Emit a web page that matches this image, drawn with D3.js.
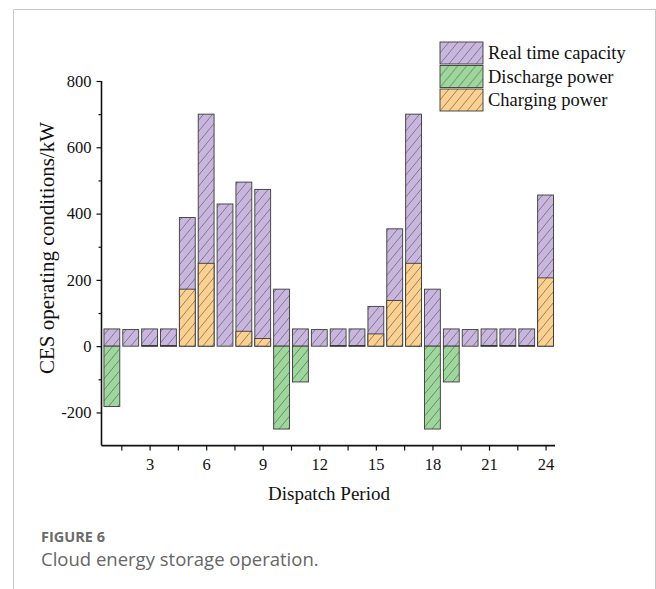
<!DOCTYPE html>
<html>
<head>
<meta charset="utf-8">
<script src="https://cdn.jsdelivr.net/npm/d3@7"></script>
<style>
  html, body { margin: 0; padding: 0; background: #fff; }
  svg { display: block; }
  .axis text { font-family: "Liberation Serif", "Times New Roman", serif; font-size: 16.5px; fill: #111; }
</style>
</head>
<body>
<svg id="chart" width="656" height="589"></svg>
<script>
// Dispatch periods 1..24
const periods = d3.range(1, 25);
// Real-time capacity of the cloud energy storage (kW)
const capacity = [52, 50, 52, 52, 388, 700, 429, 495, 473, 172, 52, 50,
                  52, 52, 120, 354, 700, 172, 52, 50, 52, 52, 52, 456];
// Discharge power (kW, negative = discharging)
const discharge = [-182, 0, 0, 0, 0, 0, 0, 0, 0, -250, -108, 0,
                   0, 0, 0, 0, 0, -250, -108, 0, 0, 0, 0, 0];
// Charging power (kW)
const charging = [0, 0, 2, 2, 172, 250, 0, 45, 23, 0, 0, 0,
                  2, 2, 37, 138, 250, 0, 0, 0, 2, 2, 2, 206];

const yTicks = [-200, 0, 200, 400, 600, 800];
const yMinor = [-100, 100, 300, 500, 700];
const xTicks = [3, 6, 9, 12, 15, 18, 21, 24];
const xMinor = [1.5, 4.5, 7.5, 10.5, 13.5, 16.5, 19.5, 22.5];

const seriesNames = ["Real time capacity", "Discharge power", "Charging power"];
const seriesColors = ["#c8b6df", "#9dd79c", "#fcd08e"];

const svg = d3.select("#chart");
const serif = "Liberation Serif, Times New Roman, serif";

// page frame
svg.append("path")
  .attr("d", "M13.5,589 V9.5 H655.5 V589")
  .attr("fill", "none").attr("stroke", "#c8c8c8").attr("stroke-width", 1);

// hatch patterns, one per series colour
const defs = svg.append("defs");
seriesColors.forEach((c, i) => {
  const p = defs.append("pattern")
    .attr("id", "hatch" + i)
    .attr("patternUnits", "userSpaceOnUse")
    .attr("width", 9).attr("height", 11);
  p.append("rect").attr("width", 9).attr("height", 11).attr("fill", c);
  p.append("path").attr("d", "M-9,22 L9,0 M0,22 L18,0 M-9,11 L0,0")
    .attr("stroke", "#4f4f4f").attr("stroke-width", 0.6).attr("fill", "none");
});

const x = d3.scaleLinear().domain([0.45, 24.5]).range([101.5, 555]);
const y = d3.scaleLinear().domain([-300, 800]).range([445.6, 81]);
const bw = (x(1) - x(0)) * 0.84;

const plot = svg.append("g");

function drawBars(values, idx) {
  plot.append("g").selectAll("rect")
    .data(periods.map((p, i) => ({ p, v: values[i] })).filter(d => d.v !== 0))
    .join("rect")
    .attr("x", d => x(d.p) - bw / 2)
    .attr("width", bw)
    .attr("y", d => y(Math.max(0, d.v)))
    .attr("height", d => Math.abs(y(d.v) - y(0)))
    .attr("fill", `url(#hatch${idx})`)
    .attr("stroke", "#3a3a3a")
    .attr("stroke-width", 0.9);
}
drawBars(capacity, 0);
drawBars(discharge, 1);
drawBars(charging, 2);

// axes
const fmt = d => String(d);
const yAxis = svg.append("g").attr("class", "axis").attr("transform", "translate(101.5,0)")
  .call(d3.axisLeft(y).tickValues(yTicks).tickSize(5).tickPadding(5).tickFormat(fmt));
svg.append("g").attr("class", "axis").attr("transform", "translate(101.5,0)")
  .call(d3.axisLeft(y).tickValues(yMinor).tickSize(3).tickFormat(""))
  .select(".domain").remove();
const xAxis = svg.append("g").attr("class", "axis").attr("transform", "translate(0,445.6)")
  .call(d3.axisBottom(x).tickValues(xTicks).tickSize(5).tickPadding(8).tickFormat(fmt));
svg.append("g").attr("class", "axis").attr("transform", "translate(0,445.6)")
  .call(d3.axisBottom(x).tickValues(xMinor).tickSize(5).tickFormat(""))
  .select(".domain").remove();

svg.selectAll(".axis").attr("font-family", serif).attr("font-size", 16.5);
svg.selectAll(".domain").attr("stroke", "#111").attr("stroke-width", 1.6);
svg.selectAll(".tick line").attr("stroke", "#111").attr("stroke-width", 1.2);
yAxis.select(".domain").attr("d", `M0,${y(800)}V${y(-300)}`);
xAxis.select(".domain").attr("d", `M101.5,0H555`);

// axis titles
svg.append("text")
  .attr("transform", `translate(54,248) rotate(-90)`)
  .attr("text-anchor", "middle")
  .attr("font-family", serif).attr("font-size", 21).attr("fill", "#111")
  .text("CES operating conditions/kW");
svg.append("text")
  .attr("x", 329).attr("y", 500)
  .attr("text-anchor", "middle")
  .attr("font-family", serif).attr("font-size", 19).attr("fill", "#111")
  .text("Dispatch Period");

// legend
const legend = svg.append("g").attr("transform", "translate(440,42)");
seriesNames.forEach((n, i) => {
  const g = legend.append("g").attr("transform", `translate(0,${i * 23.5})`);
  g.append("rect").attr("width", 43).attr("height", 22)
    .attr("fill", `url(#hatch${i})`).attr("stroke", "#3a3a3a").attr("stroke-width", 0.9);
  g.append("text").attr("x", 48).attr("y", 17)
    .attr("font-family", serif).attr("font-size", 18.5).attr("fill", "#111")
    .text(n);
});

// caption
svg.append("text").attr("x", 41).attr("y", 542)
  .attr("font-family", "Open Sans, sans-serif").attr("font-weight", 700)
  .attr("font-size", 14.5).attr("fill", "#6b6b6b").text("FIGURE 6");
svg.append("text").attr("x", 41).attr("y", 566)
  .attr("font-family", "Open Sans, sans-serif")
  .attr("font-size", 18.5).attr("fill", "#666").text("Cloud energy storage operation.");
</script>
</body>
</html>
